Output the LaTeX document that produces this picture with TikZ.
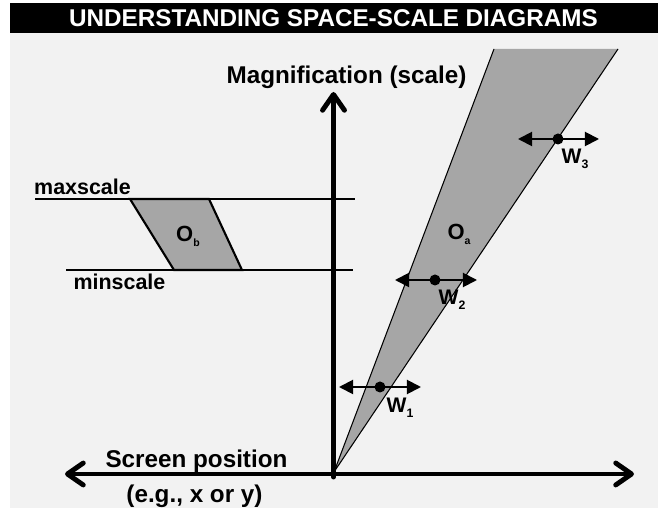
\documentclass[tikz,border=0pt]{standalone}
\usepackage{fontspec}
\setmainfont{Liberation Sans}
\usetikzlibrary{arrows.meta}
\definecolor{panel}{HTML}{F2F2F2}
\definecolor{zone}{HTML}{A6A6A6}
\newcommand{\lowidx}[2]{\raisebox{-0.45ex}{\fontsize{#1}{#1}\selectfont #2}}
\tikzset{
	axisline/.style={line width=2.8pt, line cap=round},
	barb/.tip={Straight Barb[length=9pt, width=12.5pt, line cap=round, round]},
	dragline/.style={line width=1.1pt, {Triangle[length=8pt, width=8pt]}-{Triangle[length=8pt, width=8pt]}},
	dragdot/.style={circle, fill=black, inner sep=0pt, minimum size=0.22cm},
	bigtext/.style={font=\bfseries\fontsize{13.8}{16}\selectfont},
	scaletext/.style={font=\bfseries\fontsize{12.2}{14}\selectfont},
	objtext/.style={font=\bfseries\fontsize{12.5}{14}\selectfont},
	wtext/.style={font=\bfseries\fontsize{12}{14}\selectfont}
}
\begin{document}
\begin{tikzpicture}
		\useasboundingbox (0,0) rectangle (13.16,10.16);
		\fill[panel] (0.2,0) rectangle (13.16,9.5);
		\fill[black] (0.2,9.5) rectangle (13.16,10.1);
		\node[bigtext, text=white] (title) at (6.67,9.8) {UNDERSTANDING SPACE-SCALE DIAGRAMS};
		% scale limits
		\coordinate (maxL) at (0.7,6.18);
		\coordinate (maxR) at (7.1,6.18);
		\coordinate (minL) at (1.32,4.76);
		\coordinate (minR) at (7.06,4.76);
		\draw[line width=0.6pt] (maxL) -- (maxR);
		\draw[line width=0.6pt] (minL) -- (minR);
		\node[scaletext] (maxscale) at (1.65,6.43) {maxscale};
		\node[scaletext] (minscale) at (2.39,4.52) {minscale};
		% object b
		\draw[fill=zone, line width=1.2pt] (2.6,6.18) -- (4.18,6.18) -- (4.84,4.76) -- (3.48,4.76) -- cycle;
		\node[objtext] (Ob) at (3.76,5.44) {O\lowidx{6}{b}};
		% axes
		\coordinate (xL) at (1.3,0.68);
		\coordinate (xR) at (12.68,0.68);
		\coordinate (yB) at (6.67,0.62);
		\coordinate (yT) at (6.67,8.32);
		\draw[axisline, {barb}-{barb}] (xL) -- (xR);
		\draw[axisline, -{barb}] (yB) -- (yT);
		\node[bigtext] (mag) at (6.93,8.62) {Magnification (scale)};
		\node[bigtext] (screen) at (3.93,0.94) {Screen position};
		\node[bigtext] (eg) at (3.89,0.23) {(e.g., x or y)};
		% object a
		\coordinate (O) at (6.68,0.72);
		\coordinate (aL) at (9.88,9.18);
		\coordinate (aR) at (12.36,9.18);
		\fill[zone] (O) -- (aL) -- (aR) -- cycle;
		\draw[line width=0.6pt] (aL) -- (O) -- (aR);
		\node[objtext] (Oa) at (9.18,5.48) {O\lowidx{6}{a}};
		% windows
		\coordinate (w1l) at (6.78,2.42);
		\coordinate (w1r) at (8.42,2.42);
		\draw[dragline] (w1l) -- (w1r);
		\node[dragdot] (w1dot) at (7.6,2.42) {};
		\node[wtext] (w1) at (8.0,2.0) {W\lowidx{7}{1}};
		\coordinate (w2l) at (7.9,4.56);
		\coordinate (w2r) at (9.54,4.56);
		\draw[dragline] (w2l) -- (w2r);
		\node[dragdot] (w2dot) at (8.7,4.56) {};
		\node[wtext] (w2) at (9.04,4.16) {W\lowidx{7}{2}};
		\coordinate (w3l) at (10.36,7.38);
		\coordinate (w3r) at (11.98,7.38);
		\draw[dragline] (w3l) -- (w3r);
		\node[dragdot] (w3dot) at (11.16,7.38) {};
		\node[wtext] (w3) at (11.5,6.98) {W\lowidx{7}{3}};
	\end{tikzpicture}
\end{document}
